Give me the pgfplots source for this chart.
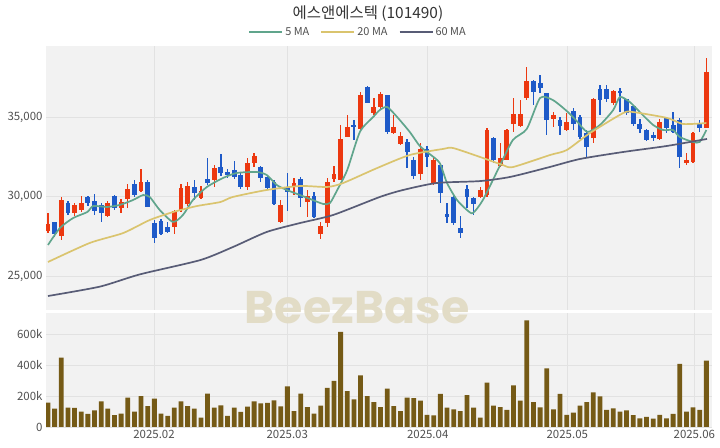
\documentclass[border=0pt]{standalone}
\usepackage{fontspec}
\setmainfont{Noto Sans CJK KR}
\newfontfamily\wmfont{Poppins}
\usepackage{pgfplots}
\pgfplotsset{compat=1.18}
\usepackage{pgfplotstable}

\definecolor{bgc}{RGB}{242,242,242}
\definecolor{gridc}{RGB}{226,226,226}
\definecolor{upc}{RGB}{236,56,16}
\definecolor{dnc}{RGB}{30,90,200}
\definecolor{volc}{RGB}{117,90,22}
\definecolor{maA}{RGB}{96,165,140}
\definecolor{maB}{RGB}{218,196,110}
\definecolor{maC}{RGB}{88,92,118}
\definecolor{wm}{RGB}{226,220,198}
\definecolor{txt}{RGB}{80,80,80}

\pgfplotstableread{
i o h l c
0 27830 28960 27700 28270
2 27520 29970 27260 29780
4 28960 29590 28770 29470
5 29150 30030 29020 29590
9 28770 29720 28710 29590
11 29280 29840 28960 29650
12 29840 30790 29280 30470
14 30350 31730 30280 30910
19 28080 29150 27640 29090
20 29150 30790 29020 30530
21 29530 30910 29400 30660
23 29900 30660 29840 30350
25 31040 31980 30600 31790
30 30600 32420 30410 32110
31 32110 32740 31850 32550
35 28400 29780 28330 29470
37 30660 31160 30090 30850
39 29650 30410 28710 30030
41 27640 28400 27330 28140
42 28330 31160 28080 30910
43 31100 31920 30910 31410
44 31040 34500 31040 33620
45 33740 35130 33740 34370
47 34250 36570 34180 36380
49 35250 36200 35130 35630
50 35630 36570 35440 36450
52 33990 35130 33930 34370
53 33300 34060 33240 33800
56 31410 33370 31040 32990
58 30850 32420 30720 32300
65 29970 30600 29900 30410
66 30090 34310 29970 34180
68 31920 33370 31850 32420
69 32300 34250 32300 34180
70 34560 36200 34060 35190
71 34430 36070 34370 35190
72 36200 38150 36070 37260
76 34870 35310 34370 35130
78 34180 35250 34120 34690
82 33680 36200 33370 36130
85 35880 36700 35750 36630
92 33620 34870 33550 34690
96 32110 32740 31980 32300
97 32170 34060 32110 33990
99 34310 38710 34310 37830
}\up

\pgfplotstableread{
i o h l c
1 28400 28400 27450 27640
3 29590 29720 28840 28960
6 29970 30030 29400 29590
7 29720 30160 28840 29090
8 29470 29590 28400 28960
10 30030 30090 29150 29280
13 30790 31040 29970 30090
15 30910 31040 29340 29340
16 28330 28520 27070 27390
17 28460 28580 27580 27640
18 28080 28400 27700 27770
22 30600 31040 29780 30220
24 31100 32420 30720 30850
26 31850 32670 31290 31480
27 31540 31730 31160 31350
28 31670 32230 31100 31230
29 31350 31480 30470 30600
32 31850 31920 30910 31160
33 31230 31350 30410 30530
34 30910 31040 29470 29530
36 30600 31480 29090 30280
38 31100 31230 29340 29900
40 30030 30280 28650 28710
46 34500 34810 33550 34370
48 36890 36950 35880 35880
51 36380 36380 33930 34060
54 33430 33620 31790 32800
55 32300 32480 31100 31290
57 32990 33180 31850 32480
59 31980 32110 29590 30220
60 28900 29590 28330 28710
61 29970 30030 28210 28330
62 28020 28770 27390 27700
63 30470 30720 29280 29970
64 29900 29970 28840 29530
67 33680 33740 32110 32300
73 37260 37330 35750 36570
74 37140 37640 36510 36820
75 36510 36510 33870 34810
77 34810 35000 33870 34430
79 35380 35570 34180 34560
80 35000 35130 33620 33740
81 33990 34180 32420 33110
83 36760 37010 35130 36070
84 36760 37010 35940 36130
86 36630 36820 35310 36510
87 36130 36130 35130 35250
88 35690 35750 34430 34560
89 34560 34870 33990 34250
90 34180 34250 33490 33550
91 33870 34060 33490 33680
93 34940 35000 33990 34310
94 34500 35310 33990 34060
95 34810 34940 31790 32480
98 34620 34810 34060 34310
}\down

\pgfplotstableread{
i v
0 157
1 118
2 447
3 125
4 123
5 99
6 84
7 108
8 166
9 118
10 77
11 86
12 189
13 99
14 200
15 135
16 183
17 86
18 71
19 125
20 166
21 135
22 118
23 60
24 215
25 125
26 140
27 71
28 125
29 97
30 131
31 166
32 153
33 155
34 172
35 133
36 262
37 103
38 215
39 129
40 86
41 138
42 252
43 297
44 613
45 232
46 179
47 333
48 200
49 161
50 129
51 247
52 135
53 103
54 189
55 187
56 170
57 79
58 75
59 213
60 125
61 114
62 103
63 206
64 125
65 60
66 286
67 138
68 129
69 110
70 269
71 170
72 688
73 161
74 127
75 379
76 114
77 213
78 79
79 92
80 138
81 161
82 224
83 198
84 110
85 120
86 99
87 108
88 77
89 56
90 65
91 54
92 79
93 56
94 84
95 408
96 99
97 127
98 110
99 428
}\vol

\pgfplotstableread{
i p
0 26950
1.8 28020
3.8 28650
5.9 29020
6.8 29400
8.9 29340
10.8 29470
12.8 29780
14.3 30090
15.3 29970
16.8 29150
18.8 28400
20.3 28840
21.8 29780
23.9 30600
26.3 31160
28.4 31480
31.4 31540
32.9 31350
34.4 30720
35.9 30410
37.9 30090
39.8 29780
41.4 29530
42.4 29590
43.5 30410
45.0 31670
46.9 34060
48.9 35000
49.9 35440
51.0 35630
52.5 35000
54.4 34060
55.9 33180
57.4 32670
58.9 32110
60.0 30850
61.5 29780
63.0 29150
63.9 28960
65.4 29780
68.0 31980
69.9 33550
72.0 34250
74.0 36200
75.9 36070
78.0 35380
79.5 34750
81.1 34060
83.0 34500
85.0 35440
86.0 36260
87.5 35940
89.0 35310
91.0 34500
92.5 34180
94.0 34180
95.0 33740
97.0 33430
98.0 33430
99.0 34180
}\maFive

\pgfplotstableread{
i p
0 25880
6.3 27080
11.3 27700
15.3 28520
18.8 29020
22.4 29400
25.9 29650
27.8 29970
32.9 30410
37.9 30660
42.0 30600
44.4 30850
49.5 31790
54.4 32610
59.4 32990
60.9 33050
65.0 32480
68.4 31980
69.9 31850
75.5 32610
78.0 32920
81.5 33990
86.5 35250
88.0 35310
93.1 34940
95.5 34560
99.0 34620
}\maTwenty

\pgfplotstableread{
i p
0 23740
7.8 24330
13.8 25100
22.9 26000
27.8 26820
32.9 27770
37.9 28330
42.9 28840
49.9 29970
53.4 30410
58.5 30850
65.0 30970
69.5 31230
75.5 31860
80.0 32360
86.5 32800
93.1 33180
99.1 33620
}\maSixty

\pgfplotsset{
  panel/.style={
    scale only axis, width=666bp,
    xmin=-0.3, xmax=99.85,
    axis background/.style={fill=bgc},
    axis line style={draw=none},
    major tick length=0pt,
    grid=major,
    major grid style={draw=gridc, line width=0.8bp},
    xtick={15.94,35.98,57.1,78.09,97.19},
    scaled y ticks=false,
    ticklabel style={font=\fontsize{11.5}{12}\selectfont, text=txt},
  },
  wick/.style={draw=none, mark=none, forget plot,
    error bars/.cd, y dir=both, y explicit, error mark=none,
    error bar style={draw=#1, line width=1.3bp}},
  body/.style={draw=none, mark=none, forget plot,
    error bars/.cd, y dir=both, y explicit, error mark=none,
    error bar style={draw=#1, line width=4.8bp}},
}

\begin{document}
\begin{tikzpicture}
\useasboundingbox (0,0) rectangle (720bp,448bp);

\begin{axis}[panel,
  at={(46bp,138bp)}, anchor=south west,
  height=264bp,
  ymin=22860, ymax=39466,
  ytick={25000,30000,35000},
  yticklabels={{25,000},{30,000},{35,000}},
  xticklabels={},
  legend columns=3,
  legend style={at={(0.4685,1)}, anchor=south, yshift=5bp, draw=none, fill=none,
    font=\fontsize{11}{12}\selectfont, text=txt,
    /tikz/every even column/.append style={column sep=9bp}},
  legend image code/.code={\draw[#1, line width=2bp] (0bp,0bp) -- (33bp,0bp);},
]
\addplot[wick=upc] table[x=i, y expr={(\thisrow{h}+\thisrow{l})/2}, y error expr={(\thisrow{h}-\thisrow{l})/2}] {\up};
\addplot[body=upc] table[x=i, y expr={(\thisrow{o}+\thisrow{c})/2}, y error expr={abs(\thisrow{c}-\thisrow{o})/2+25}] {\up};
\addplot[wick=dnc] table[x=i, y expr={(\thisrow{h}+\thisrow{l})/2}, y error expr={(\thisrow{h}-\thisrow{l})/2}] {\down};
\addplot[body=dnc] table[x=i, y expr={(\thisrow{o}+\thisrow{c})/2}, y error expr={abs(\thisrow{c}-\thisrow{o})/2+25}] {\down};
\addplot[maA, line width=1.7bp, smooth, tension=0.4, mark=none] table[x=i, y=p] {\maFive};
\addlegendentry{5 MA}
\addplot[maB, line width=1.7bp, smooth, tension=0.4, mark=none] table[x=i, y=p] {\maTwenty};
\addlegendentry{20 MA}
\addplot[maC, line width=1.7bp, smooth, tension=0.4, mark=none] table[x=i, y=p] {\maSixty};
\addlegendentry{60 MA}
\end{axis}

\begin{axis}[panel,
  at={(46bp,21bp)}, anchor=south west,
  height=114bp,
  ymin=0, ymax=735.5,
  ytick={0,200,400,600},
  yticklabels={0,200k,400k,600k},
  xticklabels={2025.02,2025.03,2025.04,2025.05,2025.06},
]
\addplot[ybar, bar width=4.8bp, bar shift=0pt, fill=volc, draw=none] table[x=i, y=v] {\vol};
\end{axis}

\node[font=\fontsize{15.5}{16}\selectfont, text=black!80] at (368bp,434bp) {에스앤에스텍 (101490)};
\node[font=\wmfont\bfseries\fontsize{46}{46}\selectfont, text=wm] at (357bp,140bp) {BeezBase};
\end{tikzpicture}
\end{document}
